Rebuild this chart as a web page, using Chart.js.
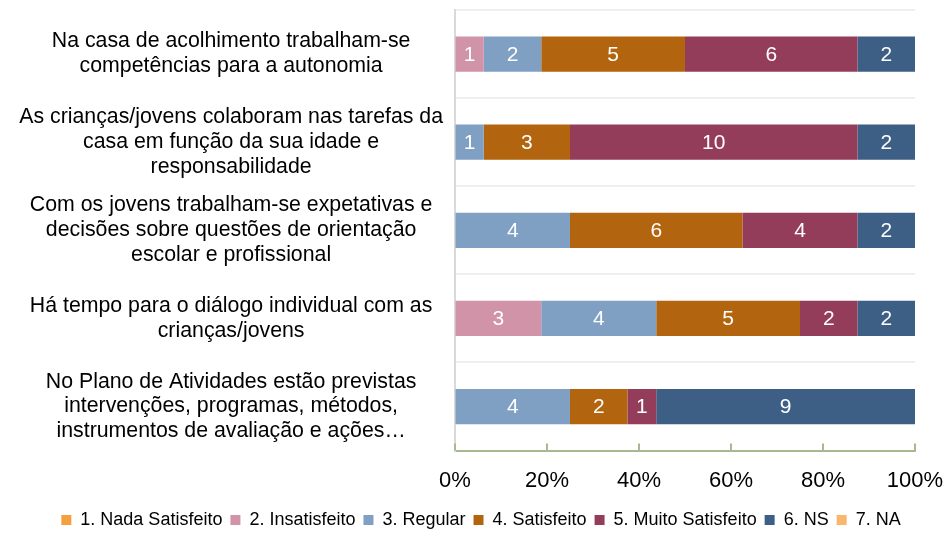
<!DOCTYPE html>
<html>
<head>
<meta charset="utf-8">
<script src="https://cdn.jsdelivr.net/npm/chart.js@4.4.1/dist/chart.umd.min.js"></script>
<style>
  html, body { margin: 0; padding: 0; background: #fff; }
  #wrap { width: 949px; height: 539px; position: relative; }
</style>
</head>
<body>
<div id="wrap"><canvas id="chart"></canvas></div>
<script>
// categorias (linhas quebradas como no original)
const categories = [
  ["Na casa de acolhimento trabalham-se", "competências para a autonomia"],
  ["As crianças/jovens colaboram nas tarefas da", "casa em função da sua idade e", "responsabilidade"],
  ["Com os jovens trabalham-se expetativas e", "decisões sobre questões de orientação", "escolar e profissional"],
  ["Há tempo para o diálogo individual com as", "crianças/jovens"],
  ["No Plano de Atividades estão previstas", "intervenções, programas, métodos,", "instrumentos de avaliação e ações…"]
];

// respostas por nível
const seriesNames = ["1. Nada Satisfeito", "2. Insatisfeito", "3. Regular", "4. Satisfeito", "5. Muito Satisfeito", "6. NS", "7. NA"];
const nadaSatisfeito = [0, 0, 0, 0, 0];
const insatisfeito   = [1, 0, 0, 3, 0];
const regular        = [2, 1, 4, 4, 4];
const satisfeito     = [5, 3, 6, 5, 2];
const muitoSatisfeito= [6, 10, 4, 2, 1];
const ns             = [2, 2, 2, 2, 9];
const na             = [0, 0, 0, 0, 0];

const xTicks = [0, 20, 40, 60, 80, 100];

const colors = ['#F5A040', '#D193A8', '#7F9FC3', '#B2650E', '#943D5A', '#3D5F85', '#F9B76E'];
const allSeries = [nadaSatisfeito, insatisfeito, regular, satisfeito, muitoSatisfeito, ns, na];

// totais por linha -> percentagens (100% empilhado)
const totals = categories.map((_, i) => allSeries.reduce((s, arr) => s + arr[i], 0));

const datasets = allSeries.map((arr, k) => ({
  label: seriesNames[k],
  data: arr.map((v, i) => v / totals[i] * 100),
  raw: arr,
  backgroundColor: colors[k],
  borderWidth: 0,
  barPercentage: 0.4,
  categoryPercentage: 1.0
}));

const FONT = "'Liberation Sans', Arial, sans-serif";

// rótulos de valor dentro das barras
const valueLabels = {
  id: 'valueLabels',
  afterDatasetsDraw(chart) {
    const ctx = chart.ctx;
    ctx.save();
    ctx.fillStyle = '#fff';
    ctx.font = '21px ' + FONT;
    ctx.textAlign = 'center';
    ctx.textBaseline = 'middle';
    chart.data.datasets.forEach((ds, k) => {
      const meta = chart.getDatasetMeta(k);
      meta.data.forEach((bar, i) => {
        const v = ds.raw[i];
        if (!v) return;
        const p = bar.getProps(['x', 'y', 'base'], true);
        ctx.fillText(String(v), (p.x + p.base) / 2, p.y + 1);
      });
    });
    ctx.restore();
  }
};

// marcas de escala para dentro (como no Excel)
const innerTicks = {
  id: 'innerTicks',
  afterDraw(chart) {
    const xs = chart.scales.x;
    const ctx = chart.ctx;
    ctx.save();
    ctx.strokeStyle = '#A9B894';
    ctx.lineWidth = 2;
    xTicks.forEach(t => {
      const px = Math.round(xs.getPixelForValue(t));
      ctx.beginPath();
      ctx.moveTo(px, xs.top);
      ctx.lineTo(px, xs.top - 7);
      ctx.stroke();
    });
    ctx.restore();
  }
};

new Chart(document.getElementById('chart'), {
  type: 'bar',
  data: { labels: categories, datasets },
  plugins: [valueLabels, innerTicks],
  options: {
    indexAxis: 'y',
    responsive: true,
    maintainAspectRatio: false,
    animation: false,
    layout: { padding: { top: 10, right: 0, left: 13, bottom: 0 } },
    plugins: {
      legend: {
        position: 'bottom',
        labels: {
          boxWidth: 10, boxHeight: 10, padding: 8,
          color: '#000',
          font: { family: FONT, size: 18 }
        }
      },
      tooltip: { enabled: false }
    },
    scales: {
      x: {
        stacked: true,
        min: 0, max: 100,
        afterBuildTicks(scale) { scale.ticks = xTicks.map(v => ({ value: v })); },
        afterFit(scale) {
          scale.paddingLeft = 0; scale.paddingRight = 34;
          scale.height -= 8;
        },
        ticks: {
          callback: v => v + '%',
          color: '#000',
          padding: 17,
          font: { family: FONT, size: 22 }
        },
        grid: { drawOnChartArea: false, drawTicks: false },
        border: { color: '#A9B894', width: 2 }
      },
      y: {
        stacked: true,
        afterFit(scale) {
          scale.width = 442;
          scale.paddingTop = 0; scale.paddingBottom = 0;
        },
        ticks: {
          color: '#000',
          crossAlign: 'center',
          padding: 12,
          font: { family: FONT, size: 21.3, lineHeight: 1.17 }
        },
        grid: { color: '#EFEFEF', lineWidth: 2, drawTicks: false, offset: true },
        border: { color: '#D9D9D9', width: 2 }
      }
    }
  }
});
</script>
</body>
</html>
